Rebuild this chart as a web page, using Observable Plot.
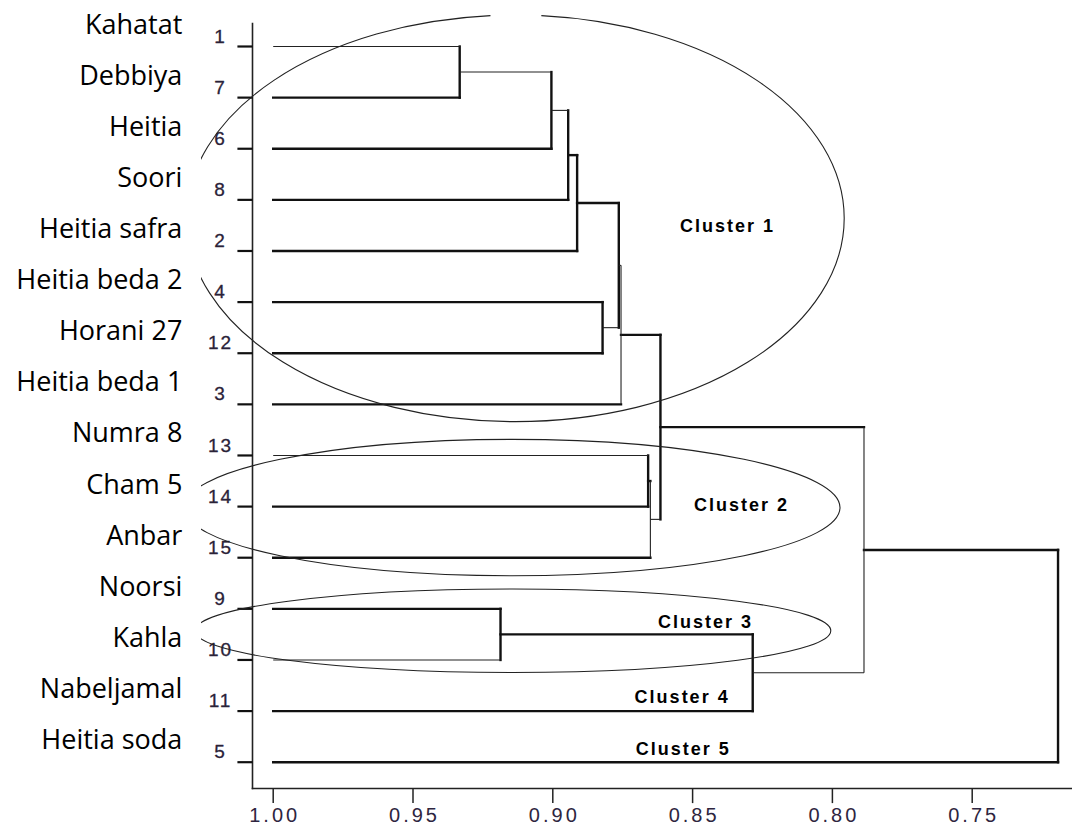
<!DOCTYPE html>
<html><head><meta charset="utf-8">
<script src="https://cdn.jsdelivr.net/npm/d3@7"></script>
<script src="https://cdn.jsdelivr.net/npm/@observablehq/plot@0.6"></script>
<style>
body{margin:0;background:#fff}
#chart{width:1072px;height:828px}
</style>
</head><body><div id="chart"></div>
<script>
// ---- data ----
const leafIds = ["1","7","6","8","2","4","12","3","13","14","15","9","10","11","5"];
const leafNames = ["Kahatat","Debbiya","Heitia","Soori","Heitia safra","Heitia beda 2","Horani 27","Heitia beda 1","Numra 8","Cham 5","Anbar","Noorsi","Kahla","Nabeljamal","Heitia soda"];
const mergeNodes  = ["a","b","c","d","e","f","g","h","i","j","k","l","m","n"];
const mergeChildA = ["1","a","b","c","4","d","f","13","h","g","9","k","j","m"];
const mergeChildB = ["7","6","8","2","12","e","3","14","15","i","10","11","l","5"];
const mergeHeight = [0.9333,0.9005,0.8945,0.8913,0.8822,0.8764,0.8756,0.8659,0.8651,0.8615,0.9187,0.8285,0.7887,0.7193];
const xTicks = [1.00,0.95,0.90,0.85,0.80,0.75];
const clusterNames = ["Cluster 1","Cluster 2","Cluster 3","Cluster 4","Cluster 5"];
const clusterLabelX = [0.8379,0.8329,0.8457,0.8541,0.8537];
const clusterLabelY = [3.515,8.979,11.262,12.729,13.752];
const ellipseCx = [0.9132,0.9144,0.9141];
const ellipseCy = [3.371,9.028,11.438];
const ellipseRx = [0.1176,0.1173,0.1137];
const ellipseRy = [3.977,1.334,0.816];

// ---- build dendrogram segments ----
const pos = new Map();
leafIds.forEach((id, i) => pos.set(id, {x: 1, y: i}));
const segs = [];
mergeNodes.forEach((n, k) => {
  const a = mergeChildA[k], b = mergeChildB[k];
  const A = pos.get(a), B = pos.get(b), h = mergeHeight[k];
  segs.push({id: "v_" + n, x1: h, y1: A.y, x2: h, y2: B.y});
  segs.push({id: "h_" + a, x1: A.x, y1: A.y, x2: h, y2: A.y});
  segs.push({id: "h_" + b, x1: B.x, y1: B.y, x2: h, y2: B.y});
  pos.set(n, {x: h, y: (A.y + B.y) / 2});
});
const thinIds = new Set(["h_1","h_10","h_13","h_a","h_b","h_e","h_i","h_l","h_f","v_i","v_m","v_g"]);
const thick = segs.filter(s => !thinIds.has(s.id));
const thin = segs.filter(s => thinIds.has(s.id));

const leaves = leafIds.map((id, i) => ({id, name: leafNames[i], i}));
const clusters = clusterNames.map((c, i) => ({c, x: clusterLabelX[i], y: clusterLabelY[i]}));

const plot = Plot.plot({
  width: 1072,
  height: 828,
  marginTop: 23,
  marginBottom: 40,
  marginLeft: 252,
  marginRight: 0,
  style: {fontFamily: "Liberation Sans, Arial, sans-serif", background: "#fff", overflow: "visible"},
  x: {domain: [1.0, 0.75], range: [272.7, 971.7], axis: null},
  y: {domain: [0, 14], range: [46, 761.7], axis: null},
  marks: [
    Plot.frame({anchor: "left", stroke: "#222", strokeWidth: 1.6}),
    Plot.frame({anchor: "bottom", stroke: "#222", strokeWidth: 1.6}),
    Plot.ruleX(xTicks, {x: d => d, y1: 14.52, y2: 14.81, stroke: "#222", strokeWidth: 1.5}),
    Plot.text(xTicks, {x: d => d, y: 14.52, text: d3.format(".2f"), dy: 27, lineAnchor: "middle",
      fontSize: 20, fill: "#2e2540", ariaDescription: "xticklabels"}),
    Plot.link(thick, {x1: "x1", y1: "y1", x2: "x2", y2: "y2", stroke: "#111", strokeWidth: 2.4, strokeLinecap: "square"}),
    Plot.link(thin, {x1: "x1", y1: "y1", x2: "x2", y2: "y2", stroke: "#222", strokeWidth: 1.1}),
    Plot.link(leaves, {x1: () => 1.0074, x2: () => 1.0128, y1: "i", y2: "i", stroke: "#111", strokeWidth: 2.2}),
    Plot.text(leaves, {x: () => 1.0192, y: "i", text: "id", textAnchor: "middle", lineAnchor: "middle", dy: -10,
      fontSize: 19, fill: "#2a2238", stroke: "#2a2238", strokeWidth: 0.3, ariaDescription: "leafnums"}),
    Plot.text(leaves, {x: () => 1.0325, y: "i", text: "name", textAnchor: "end", lineAnchor: "bottom", dy: -13,
      fontSize: 27, fontFamily: "Open Sans", fill: "#000"}),
    Plot.text(clusters, {x: "x", y: "y", text: "c", textAnchor: "middle", lineAnchor: "middle",
      fontSize: 18, fontWeight: "bold", fill: "#000", ariaDescription: "clusters"})
  ]
});
document.getElementById("chart").appendChild(plot);

// letter spacing for the stretched-looking labels
const svg = d3.select(plot);
svg.selectAll('g[aria-description="xticklabels"] text').attr("letter-spacing", 3).attr("dx", 1.5);
svg.selectAll('g[aria-description="leafnums"] text').attr("letter-spacing", 2).attr("dx", 1);
svg.selectAll('g[aria-description="clusters"] text').attr("letter-spacing", 2).attr("dx", 1);

// cluster ellipses (annotation), drawn with the plot's scales
const sx = plot.scale("x"), sy = plot.scale("y");
const defs = svg.append("defs");
defs.append("clipPath").attr("id", "ellclip").append("rect")
  .attr("x", 201).attr("y", 0).attr("width", 1072 - 201).attr("height", 828);
const eg = svg.append("g").attr("clip-path", "url(#ellclip)").attr("fill", "none").attr("stroke", "#222").attr("stroke-width", 1.1);
ellipseCx.forEach((cx, i) => {
  const px = sx.apply(cx), py = sy.apply(ellipseCy[i]);
  const rx = Math.abs(sx.apply(cx - ellipseRx[i]) - px);
  const ry = Math.abs(sy.apply(ellipseCy[i] + ellipseRy[i]) - py);
  const e = eg.append("ellipse").attr("cx", px).attr("cy", py).attr("rx", rx).attr("ry", ry);
  if (i === 0) {
    const P = Math.PI * (3 * (rx + ry) - Math.sqrt((3 * rx + ry) * (rx + 3 * ry)));
    const gap = 51, start = 0.75 * P - gap / 2;
    e.attr("stroke-dasharray", `${start} ${gap} ${P - start - gap + 2}`);
  }
});
</script>
</body></html>
